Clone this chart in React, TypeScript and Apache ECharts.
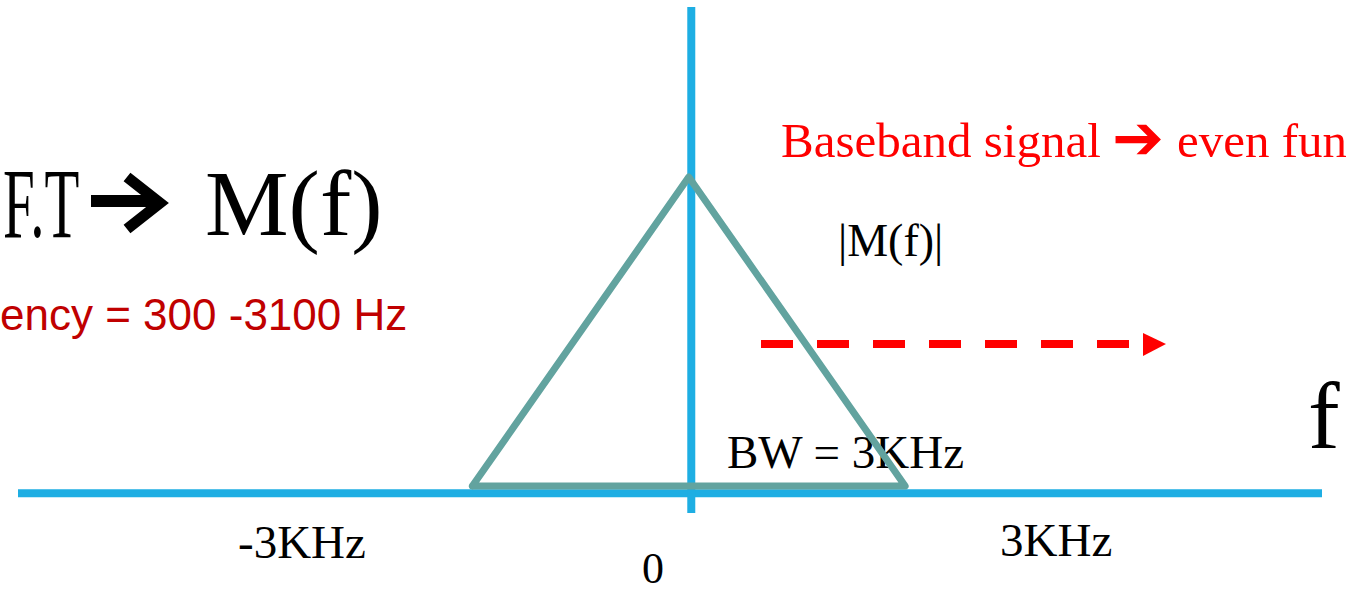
import React, { useEffect, useRef } from "react";
import * as echarts from "echarts";

// Spectrum |M(f)| (frequency in kHz, normalised magnitude)
const triangleFreq = [-3, 0, 3, -3];
const triangleMag = [0, 1, 0, 0];

// Axis lines drawn in data units
const freqAxisX = [-9.3, 8.78];
const freqAxisY = [-0.023, -0.023];
const magAxisX = [0.035, 0.035];
const magAxisY = [-0.087, 1.55];

// Text labels
const titleLeft = "F.T";
const titleRight = "M(f)";
const freqRangeLabel = "ency = 300 -3100 Hz";
const basebandLabel = "Baseband signal";
const basebandArrow = "➔";
const evenLabel = "even fun";
const magLabel = "|M(f)|";
const fLabel = "f";
const bwLabel = "BW = 3KHz";
const negTick = "-3KHz";
const posTick = "3KHz";
const zeroTick = "0";

const SERIF = "'Liberation Serif', 'Times New Roman', serif";
const SANS = "'Liberation Sans', Arial, sans-serif";

export default function App() {
  const ref = useRef<HTMLDivElement>(null);
  useEffect(() => {
    if (!ref.current) return;
    const chart = echarts.init(ref.current, undefined, { renderer: "svg" });
    const pairs = (xs: number[], ys: number[]) => xs.map((x, i) => [x, ys[i]]);
    const txt = (text: string, x: number, y: number, size: number, fill: string, family = SERIF, extra: any = {}) => ({
      type: "text",
      x,
      y,
      ...extra,
      style: { text, fontSize: size, fontFamily: family, fill, align: "left", verticalAlign: "middle" },
    });
    chart.setOption({
      animation: false,
      backgroundColor: "#ffffff",
      grid: { left: 18, right: 24, top: 7, bottom: 75 },
      xAxis: { type: "value", min: -9.3, max: 8.78, show: false, splitLine: { show: false } },
      yAxis: { type: "value", min: -0.1, max: 1.55, show: false, splitLine: { show: false } },
      series: [
        {
          type: "line",
          data: pairs(freqAxisX, freqAxisY),
          symbol: "none",
          lineStyle: { color: "#1EAEE3", width: 8 },
          z: 2,
        },
        {
          type: "line",
          data: pairs(magAxisX, magAxisY),
          symbol: "none",
          lineStyle: { color: "#1EAEE3", width: 8 },
          z: 3,
        },
        {
          type: "line",
          data: pairs(triangleFreq, triangleMag),
          symbol: "none",
          lineStyle: { color: "#62A39F", width: 7, join: "round", cap: "round" },
          z: 4,
        },
      ],
      graphic: [
        txt(titleLeft, 3, 203, 100, "#000000", SERIF, { scaleX: 0.57 }),
        {
          type: "line",
          shape: { x1: 91, y1: 201, x2: 156, y2: 201 },
          style: { stroke: "#000000", lineWidth: 12 },
        },
        {
          type: "polyline",
          shape: { points: [[127, 177], [160, 203], [127, 229]] },
          style: { stroke: "#000000", lineWidth: 11, lineJoin: "miter", fill: null },
        },
        txt(titleRight, 205, 203, 94, "#000000"),
        txt(freqRangeLabel, 0, 314, 44, "#C00000", SANS),
        txt(basebandLabel, 781, 140, 49, "#FF0000"),
        txt(basebandArrow, 1112, 137, 62, "#FF0000", "'DejaVu Sans', sans-serif"),
        txt(evenLabel, 1177, 140, 49, "#FF0000"),
        txt(magLabel, 838, 240, 46, "#000000"),
        txt(fLabel, 1308, 416, 95, "#000000"),
        txt(bwLabel, 727, 452, 47, "#000000"),
        txt(negTick, 238, 542, 47, "#000000"),
        txt(posTick, 1000, 540, 47, "#000000"),
        txt(zeroTick, 642, 568, 44, "#000000"),
        {
          type: "line",
          shape: { x1: 761, y1: 344, x2: 1130, y2: 344 },
          style: { stroke: "#FF0000", lineWidth: 8, lineDash: [32, 24] },
        },
        {
          type: "polygon",
          shape: { points: [[1143, 333], [1166, 344], [1143, 356]] },
          style: { fill: "#FF0000" },
        },
      ],
    });
    return () => chart.dispose();
  }, []);
  return (
    <div
      ref={ref}
      style={{ position: "fixed", left: 0, top: 0, width: 1346, height: 592 }}
    />
  );
}
